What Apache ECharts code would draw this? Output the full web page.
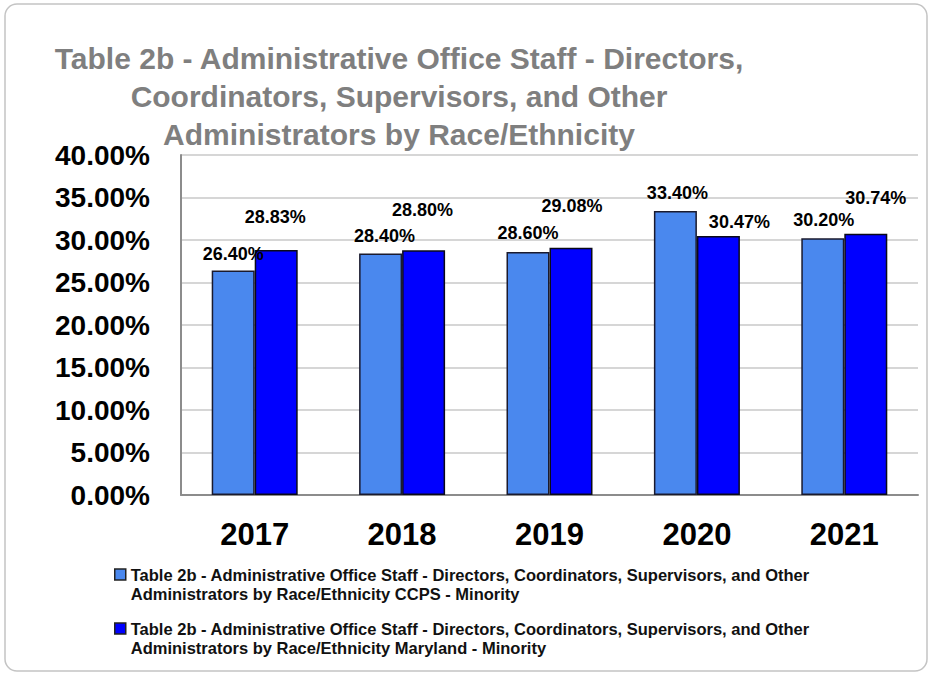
<!DOCTYPE html>
<html>
<head>
<meta charset="utf-8">
<title>Table 2b - Administrative Office Staff</title>
<script src="https://cdn.jsdelivr.net/npm/echarts@6/dist/echarts.min.js"></script>
<style>
  html, body { margin: 0; padding: 0; background: #ffffff; }
  #chart { width: 933px; height: 675px; }
</style>
</head>
<body>
<div id="chart"></div>
<script>
// Years on the category axis
const years = ['2017', '2018', '2019', '2020', '2021'];

// Percent of minority administrators
const ccpsMinority = [26.40, 28.40, 28.60, 33.40, 30.20];
const marylandMinority = [28.83, 28.80, 29.08, 30.47, 30.74];

// Value axis ticks
const yTicks = [0, 5, 10, 15, 20, 25, 30, 35, 40];

const seriesNames = [
  'Table 2b - Administrative Office Staff - Directors, Coordinators, Supervisors, and Other Administrators by Race/Ethnicity CCPS - Minority',
  'Table 2b - Administrative Office Staff - Directors, Coordinators, Supervisors, and Other Administrators by Race/Ethnicity Maryland - Minority'
];

const titleText = 'Table 2b - Administrative Office Staff - Directors,\nCoordinators, Supervisors, and Other\nAdministrators by Race/Ethnicity';

// Hand-placed nudges for the value labels (pixels, [dx, dy])
const ccpsLabelNudge = [[0, -3], [4, -4], [0, -5], [2, -4], [1, -4]];
const mdLabelNudge = [[-1, -19], [-1, -26], [1, -28], [21, 0], [10, -22]];

const FONT = '"Liberation Sans", Arial, Helvetica, sans-serif';

// Legend swatch: an 11x11 square sitting at the top of a taller box,
// so it lines up with the first line of the two-line entry
const LEGEND_ICON = 'path://M0,0L11,0L11,11L0,11Z M0,30';

function pct(v) { return v.toFixed(2) + '%'; }

function withLabels(values, nudges) {
  return values.map((v, i) => ({ value: v, label: { offset: nudges[i] } }));
}

const labelStyle = {
  show: true,
  position: 'top',
  distance: 5,
  color: '#000',
  fontFamily: FONT,
  fontWeight: 'bold',
  fontSize: 18,
  formatter: p => pct(p.value)
};

function legendFor(name, top) {
  return {
    data: [{ name: name, icon: LEGEND_ICON }],
    left: 114,
    top: top,
    padding: 0,
    orient: 'vertical',
    itemWidth: 11,
    itemHeight: 30,
    itemStyle: { borderColor: '#222', borderWidth: 1.5 },
    selectedMode: false,
    formatter: n => n.replace(' Administrators by', '\nAdministrators by'),
    textStyle: {
      fontFamily: FONT,
      fontWeight: 'bold',
      fontSize: 16.5,
      lineHeight: 19,
      color: '#111'
    }
  };
}

const chart = echarts.init(document.getElementById('chart'), null, { renderer: 'svg' });

chart.setOption({
  animation: false,
  backgroundColor: '#ffffff',
  graphic: [
    {
      type: 'rect',
      shape: { x: 5, y: 4, width: 922, height: 667, r: 12 },
      style: { fill: 'none', stroke: '#c4c4c4', lineWidth: 1.5 },
      silent: true,
      z: -10
    },
    {
      type: 'text',
      x: 399,
      y: 39,
      style: {
        text: titleText,
        fill: '#7f7f7f',
        font: 'bold 30px ' + FONT,
        lineHeight: 38,
        textAlign: 'center',
        textVerticalAlign: 'top'
      },
      silent: true
    }
  ],
  legend: [legendFor(seriesNames[0], 565), legendFor(seriesNames[1], 619)],
  grid: { left: 181, right: 15, top: 155, bottom: 180, containLabel: false },
  xAxis: {
    type: 'category',
    data: years,
    axisLine: { show: true, lineStyle: { color: '#8c8c8c', width: 2 } },
    axisTick: { show: false },
    axisLabel: {
      margin: 24,
      color: '#000',
      fontFamily: FONT,
      fontWeight: 'bold',
      fontSize: 31
    }
  },
  yAxis: {
    type: 'value',
    min: yTicks[0],
    max: yTicks[yTicks.length - 1],
    interval: yTicks[1] - yTicks[0],
    axisLine: { show: true, lineStyle: { color: '#8c8c8c', width: 2 } },
    axisTick: { show: false },
    splitLine: { lineStyle: { color: '#d6d6d6', width: 2 } },
    axisLabel: {
      margin: 31,
      color: '#000',
      fontFamily: FONT,
      fontWeight: 'bold',
      fontSize: 28,
      formatter: v => pct(v)
    }
  },
  series: [
    {
      name: seriesNames[0],
      type: 'bar',
      barWidth: 43,
      barGap: '0%',
      data: withLabels(ccpsMinority, ccpsLabelNudge),
      itemStyle: { color: '#4a88ee', borderColor: '#1a1a2e', borderWidth: 1.5 },
      label: labelStyle
    },
    {
      name: seriesNames[1],
      type: 'bar',
      barWidth: 43,
      barGap: '0%',
      data: withLabels(marylandMinority, mdLabelNudge),
      itemStyle: { color: '#0000ff', borderColor: '#0a0a1a', borderWidth: 1.5 },
      label: labelStyle
    }
  ]
});
</script>
</body>
</html>
